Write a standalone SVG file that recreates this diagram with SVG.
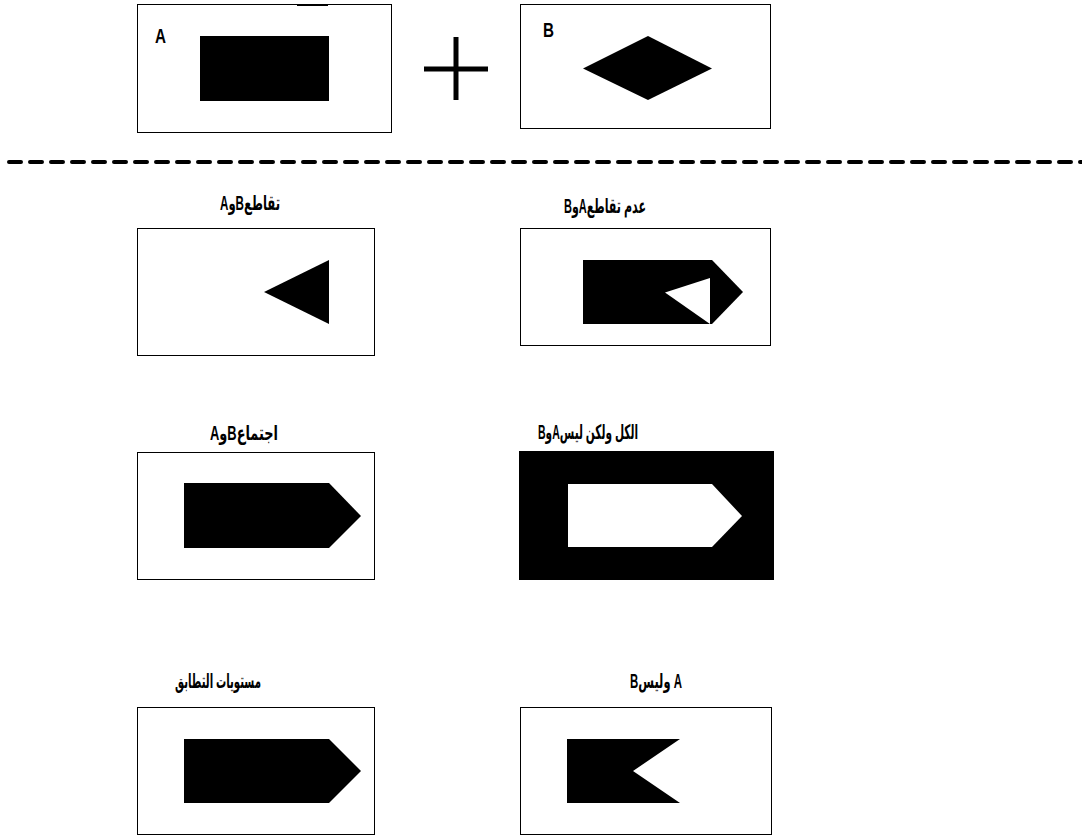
<svg xmlns="http://www.w3.org/2000/svg" width="1082" height="836" viewBox="0 0 1082 836">
<style>
.box{fill:#fff;stroke:#000;stroke-width:1}
.fill{fill:#000;stroke:none}
.lbl{font-family:"Liberation Sans","DejaVu Sans",sans-serif;font-weight:bold;font-size:20px;fill:#000}
.ar{direction:rtl;unicode-bidi:embed;text-anchor:middle}
</style>
<rect width="1082" height="836" fill="#fff"/>
<g id="setA">
<rect class="box" x="137.5" y="4.5" width="254" height="128"/>
<line x1="297" y1="5" x2="328" y2="5" stroke="#000" stroke-width="2"/>
<text class="lbl" x="155" y="43" textLength="11" lengthAdjust="spacingAndGlyphs">A</text>
<rect class="fill" x="200" y="36" width="129" height="65"/>
</g>
<g id="plus">
<line x1="456" y1="37" x2="456" y2="100" stroke="#000" stroke-width="5"/>
<line x1="424" y1="69" x2="488" y2="69" stroke="#000" stroke-width="5"/>
</g>
<g id="setB">
<rect class="box" x="520.5" y="4.5" width="250" height="124"/>
<text class="lbl" x="543" y="37" textLength="11" lengthAdjust="spacingAndGlyphs">B</text>
<polygon class="fill" points="583,68.5 648,36 712,68.5 648,100"/>
</g>
<g id="divider">
<line x1="9" y1="162" x2="1082" y2="162" stroke="#000" stroke-width="4" stroke-linecap="round" stroke-dasharray="12 9"/>
</g>
<g id="intersection">
<text class="lbl ar" x="250" y="210" textLength="60" lengthAdjust="spacingAndGlyphs">تقاطعBوA</text>
<rect class="box" x="137.5" y="228.5" width="237" height="127"/>
<polygon class="fill" points="264,292 329,260 329,324"/>
</g>
<g id="nonIntersection">
<text class="lbl ar" x="605" y="213" textLength="82" lengthAdjust="spacingAndGlyphs">عدم تقاطعAوB</text>
<rect class="box" x="520.5" y="228.5" width="250" height="117"/>
<polygon class="fill" points="583,260 712,260 743,292 712,324 583,324"/>
<polygon fill="#fff" points="665,292.5 710,278 710,324"/>
</g>
<g id="union">
<text class="lbl ar" x="244" y="440" textLength="68" lengthAdjust="spacingAndGlyphs">اجتماعBوA</text>
<rect class="box" x="137.5" y="452.5" width="237" height="127"/>
<polygon class="fill" points="184,483 329,483 361,516 329,548 184,548"/>
</g>
<g id="allButAB">
<text class="lbl ar" x="588" y="439" textLength="100" lengthAdjust="spacingAndGlyphs">الكل ولكن ليسAوB</text>
<rect x="519" y="451" width="255" height="129" fill="#000"/>
<polygon fill="#fff" points="568,484 712,484 742,516 712,547 568,547"/>
</g>
<g id="overlapLevels">
<text class="lbl ar" x="218" y="688" textLength="86" lengthAdjust="spacingAndGlyphs">مستويات التطابق</text>
<rect class="box" x="137.5" y="707.5" width="237" height="127"/>
<polygon class="fill" points="184,739 329,739 361,771 329,803 184,803"/>
</g>
<g id="aNotB">
<text class="lbl ar" x="656" y="688" textLength="52" lengthAdjust="spacingAndGlyphs">A وليسB</text>
<rect class="box" x="520.5" y="707.5" width="251" height="127"/>
<polygon class="fill" points="567,739 680,739 633,771 680,803 567,803"/>
</g>
</svg>
